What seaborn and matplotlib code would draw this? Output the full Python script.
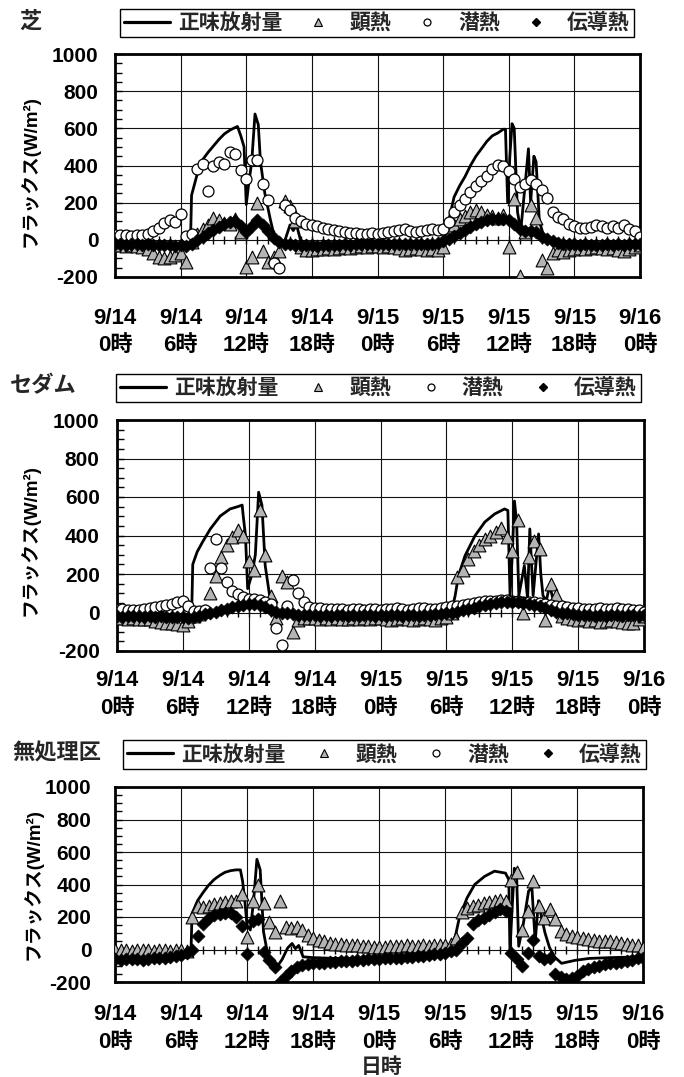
import numpy as np
import matplotlib
matplotlib.use("Agg")
import matplotlib.pyplot as plt
import seaborn as sns
from matplotlib.ticker import MultipleLocator
from matplotlib.lines import Line2D

sns.set_style("white")
plt.rcParams['font.family'] = ['Liberation Sans', 'Noto Sans CJK JP', 'DejaVu Sans']
plt.rcParams['font.weight'] = 'bold'
plt.rcParams['axes.unicode_minus'] = False

# ---------------- data ----------------
hours = np.arange(0, 48.5, 0.5)          # 30-min sampling, 9/14 0時 .. 9/16 0時
x_ticks = [0, 6, 12, 18, 24, 30, 36, 42, 48]
x_labels = ["9/14\n0時", "9/14\n6時", "9/14\n12時", "9/14\n18時", "9/15\n0時",
            "9/15\n6時", "9/15\n12時", "9/15\n18時", "9/16\n0時"]
y_ticks = [-200, 0, 200, 400, 600, 800, 1000]
y_labels = ["-200", "0", "200", "400", "600", "800", "1000"]
series_names = ["正味放射量", "顕熱", "潜熱", "伝導熱"]
panel_titles = ["芝", "セダム", "無処理区"]

# 芝
nr1_t = [0, 2, 4, 6, 6.5, 6.9, 7.0, 7.5, 8.0, 8.5, 9.0, 9.5, 10.0, 10.5, 11.0, 11.2, 11.5, 11.8,
         12.0, 12.2, 12.5, 12.8, 13.1, 13.3, 13.7, 14.2, 14.6, 15.0, 15.5, 16.0, 16.3, 16.6, 17.0,
         17.5, 20, 24, 28, 29.5, 30.0, 30.5, 31.0, 31.5, 32.0, 32.5, 33.0, 33.5, 34.0, 34.5, 35.0,
         35.5, 35.7, 35.9, 36.1, 36.3, 36.5, 36.8, 37.1, 37.5, 37.8, 38.0, 38.3, 38.5, 38.8, 39.2,
         40.0, 40.5, 44, 48]
nr1_v = [-32, -35, -33, -30, -28, -15, 240, 350, 430, 470, 505, 540, 570, 590, 605, 610, 560, 500,
         190, 290, 420, 677, 620, 420, 250, 110, 10, -20, -10, 80, 50, 80, -10,
         -25, -30, -32, -30, -28, 0, 100, 230, 290, 340, 400, 450, 490, 530, 560, 575,
         595, 595, 200, 450, 625, 600, 150, 50, 300, 490, 200, 450, 420, 100, 20,
         0, -20, -28, -30]
h1 = [-30, -30, -35, -30, -35, -40, -50, -70, -90, -100, -95, -80,
      -70, -120, -10, 30, 60, 80, 120, 105, 90, 85, 110, 40,
      -145, -90, 200, -60, -120, -90, -60, 210, 180, 100, -40, -55,
      -55, -50, -50, -45, -50, -45, -40, -45, -40, -35, -40, -35,
      -35, -40, -35, -40, -45, -55, -50, -45, -50, -55, -50, -55,
      -40, 30, 80, 113, 130, 150, 160, 150, 135, 130, 120, 133,
      -40, 220, -195, 40, 185, 115, -110, -150, -70, -56, -65, -55,
      -50, -45, -50, -45, -40, -45, -50, -45, -55, -60, -50, -40,
      -30]
le1 = [25, 28, 25, 22, 25, 28, 30, 45, 65, 90, 105, 95,
       140, 20, 30, 380, 410, 262, 400, 420, 410, 470, 460, 375,
       330, 430, 430, 300, 215, -125, -150, 185, 160, 120, 100, 85,
       80, 72, 62, 60, 55, 45, 40, 35, 35, 30, 30, 35,
       30, 35, 40, 45, 55, 60, 45, 40, 50, 55, 60, 55,
       60, 95, 150, 185, 220, 256, 287, 318, 345, 380, 405, 400,
       370, 330, 285, 300, 320, 300, 270, 226, 150, 125, 110, 87,
       72, 65, 62, 70, 80, 75, 65, 72, 65, 80, 60, 45,
       15]
g1 = [-25, -25, -28, -25, -25, -28, -25, -28, -30, -28, -30, -32,
      -30, -32, -20, 0, 15, 35, 55, 70, 85, 95, 100, 75,
      40, 75, 105, 80, 45, 10, -10, -20, -25, -28, -30, -30,
      -30, -32, -30, -28, -30, -28, -25, -28, -25, -25, -22, -25,
      -22, -25, -22, -25, -25, -22, -25, -25, -22, -25, -20, -15,
      -5, 5, 20, 35, 55, 70, 85, 95, 105, 110, 113, 110,
      105, 85, 60, 46, 46, 40, 15, 5, -5, -15, -20, -25,
      -25, -28, -25, -28, -30, -28, -25, -28, -25, -28, -25, -25,
      -25]

# セダム
nr2_t = [0, 3, 6, 6.5, 6.8, 6.9, 7.3, 7.8, 8.5, 9.4, 10.3, 11.0, 11.4, 11.5, 11.7, 11.9, 12.3,
         12.6, 12.9, 13.2, 13.5, 13.9, 14.3, 15, 20, 24, 28, 30.0, 30.5, 30.8, 31.1, 31.7, 32.6,
         33.5, 34.4, 35.3, 35.6, 35.8, 36.0, 36.2, 36.4, 36.6, 37.1, 37.4, 37.6, 37.9, 38.4, 38.6,
         38.8, 39.1, 39.4, 39.9, 40.5, 44, 48]
nr2_v = [-15, -18, -15, -12, -10, 250, 315, 367, 434, 501, 538, 550, 558, 500, 400, 124, 200,
         300, 625, 558, 243, 88, 15, -10, -15, -15, -12, -10, 10, 88, 191, 295, 398,
         470, 512, 538, 530, 88, 300, 579, 470, 88, 243, 70, 434, 88, 408, 200,
         88, 60, 140, 30, 0, -12, -15]
h2 = [-30, -30, -32, -30, -35, -32, -35, -45, -50, -55, -55, -60,
      -65, -45, -20, -10, 10, 100, 190, 290, 350, 390, 430, 400,
      270, 220, 530, 300, 88, -30, 190, 160, -100, -40, -30, -30,
      -30, -32, -30, -35, -30, -32, -35, -30, -32, -30, -35, -30,
      -30, -35, -40, -35, -30, -35, -40, -35, -30, -35, -40, -30,
      -25, 0, 186, 222, 280, 320, 350, 380, 400, 420, 440, 390,
      320, 480, -5, 290, 370, 330, -40, 150, 90, -20, -30, -35,
      -40, -35, -45, -40, -50, -45, -40, -45, -50, -55, -57, -35,
      -20]
le2 = [15, 18, 15, 12, 15, 18, 25, 30, 35, 40, 45, 55,
       60, 35, 10, 10, 15, 233, 383, 230, 160, 110, 95, 80,
       72, 70, 67, 57, 45, -80, -170, 36, 170, 100, 55, 30,
       25, 22, 20, 20, 18, 20, 15, 18, 20, 15, 18, 20,
       15, 18, 20, 22, 18, 15, 20, 25, 22, 18, 20, 25,
       28, 32, 35, 40, 45, 50, 55, 58, 60, 62, 65, 65,
       62, 60, 55, 55, 55, 50, 45, 40, 35, 32, 30, 25,
       22, 20, 18, 20, 22, 18, 20, 22, 20, 18, 15, 12,
       5]
g2 = [-20, -22, -20, -18, -20, -22, -20, -22, -20, -22, -25, -22,
      -25, -28, -25, -20, -10, 0, 5, 15, 20, 28, 35, 40,
      45, 42, 40, 30, 15, 5, 0, -5, -10, -12, -15, -15,
      -15, -18, -15, -18, -15, -15, -18, -15, -18, -15, -15, -18,
      -15, -18, -15, -15, -18, -15, -15, -18, -15, -12, -10, -8,
      -5, 0, 5, 12, 18, 25, 32, 38, 45, 50, 55, 55,
      55, 52, 48, 45, 40, 35, 25, 15, 5, 0, -5, -10,
      -12, -15, -15, -18, -15, -18, -15, -15, -18, -15, -15, -18,
      -15]

# 無処理区
nr3_t = [0, 3, 6, 6.5, 6.9, 7.0, 7.5, 8.0, 8.5, 9.0, 9.5, 10.0, 10.5, 11.0, 11.4, 11.6, 11.8,
         12.0, 12.3, 12.6, 12.9, 13.2, 13.5, 13.8, 14.1, 14.7, 15.2, 15.7, 16.1, 16.4, 16.7, 17.1,
         18, 20, 24, 28, 30, 30.6, 31.0, 31.3, 32.0, 32.7, 33.6, 34.5, 35.5, 35.8, 35.9, 36.3,
         36.5, 36.7, 37.1, 37.6, 37.9, 38.2, 38.5, 38.8, 39.1, 39.5, 40.0, 40.6, 41.8, 43.1, 45, 48]
nr3_v = [-50, -52, -48, -45, -40, 220, 300, 350, 395, 430, 455, 475, 485, 490, 490, 420, 300,
         150, 120, 300, 555, 490, 110, 0, -85, -110, -60, 10, 37, 5, 25, -45,
         -50, -55, -55, -50, -40, 0, 100, 195, 317, 400, 450, 482, 470, 430, -6, 500,
         480, 20, 150, 360, 380, 50, 300, 190, 100, 12, -49, -85, -67, -55, -50, -45]
h3 = [-5, 0, -5, -8, -5, 0, -5, -8, -5, -5, -8, -5,
      -5, -10, 200, 270, 260, 270, 280, 285, 290, 300, 300, 340,
      80, 300, 400, 285, 170, 110, 300, 140, 135, 140, 120, 90,
      73, 60, 50, 40, 35, 32, 30, 28, 25, 22, 20, 18,
      15, 18, 20, 22, 20, 25, 22, 20, 25, 22, 25, 28,
      30, 35, 73, 230, 255, 265, 275, 285, 290, 300, 305, 300,
      430, 480, 120, 240, 420, 270, 195, 250, 190, 116, 95, 85,
      80, 73, 65, 60, 55, 52, 50, 45, 40, 35, 30, 25,
      12]
le3 = [np.nan] * 97   # 潜熱: no points plotted for 無処理区
g3 = [-60, -62, -60, -58, -60, -62, -58, -55, -52, -50, -45, -40,
      -35, -20, -5, 85, 158, 195, 210, 220, 225, 226, 200, 146,
      -30, 177, 190, -18, -67, -110, -200, -160, -130, -110, -95, -90,
      -85, -80, -82, -78, -75, -72, -70, -68, -65, -62, -60, -58,
      -58, -55, -55, -52, -50, -48, -45, -42, -40, -35, -30, -25,
      -20, -10, 0, 40, 73, 158, 180, 195, 215, 230, 250, 240,
      -24, -60, -100, -20, 60, -40, -60, -50, -150, -170, -180, -175,
      -160, -135, -120, -110, -100, -90, -85, -80, -75, -68, -62, -55,
      -50]

# ---------------- layout (pixels) ----------------
W, H = 684, 1077
panels = [
    dict(title=panel_titles[0], nr_t=nr1_t, nr_v=nr1_v, h=h1, le=le1, g=g1,
         box=(115, 54, 640, 277), leg=(120, 6, 634, 40), title_xy=(30, 22),
         xpad=22, ypad=12, ylab=(-0.143, 0.475)),
    dict(title=panel_titles[1], nr_t=nr2_t, nr_v=nr2_v, h=h2, le=le2, g=g2,
         box=(117, 420, 644, 651), leg=(116, 371, 641, 405), title_xy=(43, 387),
         xpad=14, ypad=12.5, ylab=(-0.146, 0.48)),
    dict(title=panel_titles[2], nr_t=nr3_t, nr_v=nr3_v, h=h3, le=le3, g=g3,
         box=(115, 787, 643, 982), leg=(123, 738, 646, 771), title_xy=(57, 754),
         xpad=16, ypad=17, ylab=(-0.138, 0.5)),
]

TRI_C = "#b4b4b4"


def frac_rect(l, t, r, b):
    return [l / W, 1 - b / H, (r - l) / W, (b - t) / H]


fig = plt.figure(figsize=(W / 100, H / 100), dpi=100)

for p in panels:
    ax = fig.add_axes(frac_rect(*p["box"]))
    ax.set_axisbelow(True)
    sns.lineplot(x=p["nr_t"], y=p["nr_v"], ax=ax, color="black", linewidth=2.0,
                 zorder=2, legend=False)
    sns.scatterplot(x=hours, y=p["h"], ax=ax, marker="^", s=85, color=TRI_C,
                    edgecolor="black", linewidth=0.8, zorder=3, legend=False)
    if not np.all(np.isnan(np.asarray(p["le"], dtype=float))):
        sns.scatterplot(x=hours, y=p["le"], ax=ax, marker="o", s=62, color="white",
                        edgecolor="black", linewidth=0.9, zorder=4, legend=False)
    sns.scatterplot(x=hours, y=p["g"], ax=ax, marker="D", s=44, color="black",
                    edgecolor="black", linewidth=0.5, zorder=5, legend=False)

    ax.set_xlim(0, 48)
    ax.set_ylim(-200, 1000)
    ax.set_xticks(x_ticks)
    ax.set_xticklabels(x_labels, fontsize=16, fontweight="bold", linespacing=1.4)
    ax.set_yticks(y_ticks)
    ax.set_yticklabels(y_labels, fontsize=15, fontweight="bold")
    ax.yaxis.set_minor_locator(MultipleLocator(50))
    ax.tick_params(axis="x", length=0, pad=p["xpad"], colors="black")
    ax.tick_params(axis="y", which="both", direction="in", length=5, width=1,
                   left=True, pad=p["ypad"], colors="black")
    ax.grid(True, which="major", color="#111111", linewidth=0.8)
    for s in ax.spines.values():
        s.set_visible(True)
        s.set_color("black")
        s.set_linewidth(2.0)
    ax.set_xlabel("")
    ax.set_ylabel("フラックス(W/m²)", fontsize=13.5, fontweight="bold", color="black")
    ax.yaxis.set_label_coords(*p["ylab"])

    # hourly tick marks where the x axis crosses y = 0
    sec = ax.secondary_xaxis(200 / 1200)
    sec.set_xticks(np.arange(0, 49, 1))
    sec.tick_params(direction="inout", length=6, width=1, labelbottom=False,
                    labeltop=False, colors="black")
    for s in sec.spines.values():
        s.set_visible(False)

    handles = [
        Line2D([], [], color="black", linewidth=2.3),
        Line2D([], [], linestyle="none", marker="^", markersize=6,
               markerfacecolor=TRI_C, markeredgecolor="black", markeredgewidth=0.8),
        Line2D([], [], linestyle="none", marker="o", markersize=5,
               markerfacecolor="white", markeredgecolor="black", markeredgewidth=0.9),
        Line2D([], [], linestyle="none", marker="D", markersize=4.5,
               markerfacecolor="black", markeredgecolor="black"),
    ]
    l, t, r, b = p["leg"]
    leg = ax.legend(handles, series_names, loc="center",
                    bbox_to_anchor=(l / W, 1 - b / H, (r - l) / W, (b - t) / H),
                    bbox_transform=fig.transFigure, mode="expand", ncol=4,
                    frameon=True, fancybox=False, edgecolor="black", framealpha=1,
                    borderpad=0.2, borderaxespad=0, handlelength=2.2,
                    handletextpad=0.4, columnspacing=0.6,
                    prop={"size": 15, "weight": "bold"})
    leg.get_frame().set_linewidth(1.0)

    tx, ty = p["title_xy"]
    fig.text(tx / W, 1 - ty / H, p["title"], ha="center", va="center",
             fontsize=16, fontweight="bold")

fig.text(382 / W, 1 - 1067 / H, "日時", ha="center", va="center",
         fontsize=15, fontweight="bold")

fig.savefig("out.png", dpi=100)
